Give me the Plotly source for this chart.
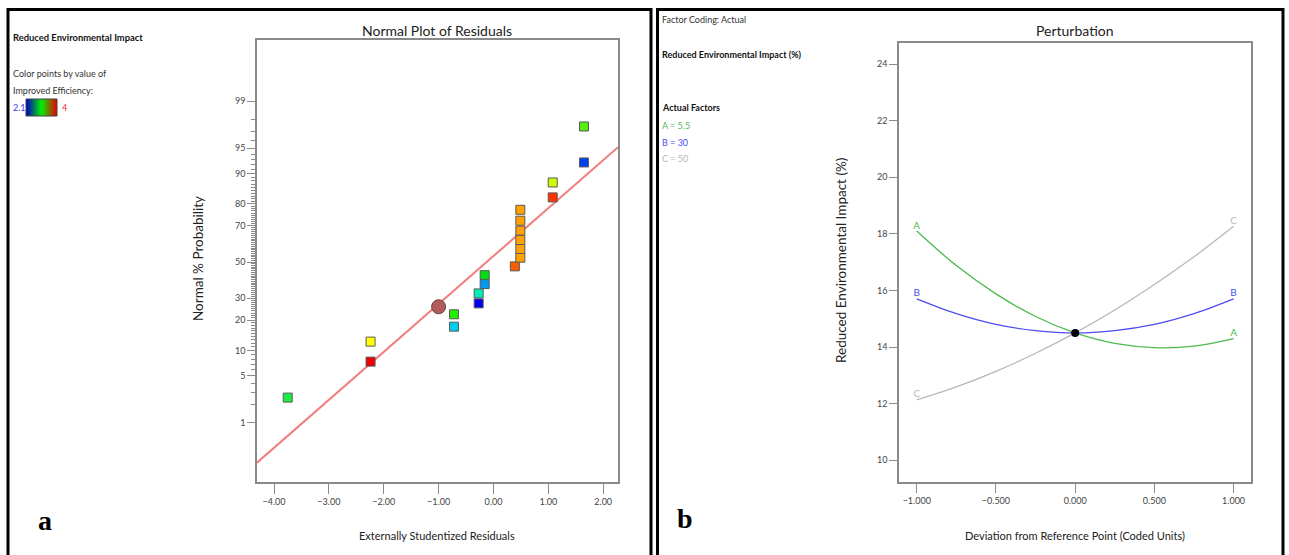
import plotly.graph_objects as go
import numpy as np
from statistics import NormalDist

W, H = 1289, 555
ND = NormalDist()

# ---------------- Data: Normal plot of residuals ----------------
residuals = [-3.75, -2.24, -2.24, -0.72, -0.72, -0.27, -0.27, -0.16, -0.16, 0.39,
             0.49, 0.49, 0.49, 0.49, 0.49, 0.49, 1.08, 1.08, 1.65, 1.65]
probabilities = [2.5, 7.5, 12.5, 17.5, 22.5, 27.5, 32.5, 37.5, 42.5, 47.5,
                 52.5, 57.5, 62.5, 67.5, 72.5, 77.5, 82.5, 87.5, 92.5, 97.5]
point_colors = ['#1eea46', '#ee0000', '#ffff00', '#00ccf0', '#22ee00', '#0000ee',
                '#00eebb', '#0099ee', '#00dd11', '#ff5a00',
                '#ffa200', '#ffa200', '#ffa200', '#ffa200', '#ffa200', '#ffa200',
                '#ff3300', '#ccff00', '#0040ee', '#55ee11']
highlight_residual = [-1.0]
highlight_prob = [25.9]
fit_mean = -0.125
fit_sd = 1.443
prob_tick_labels = [1, 5, 10, 20, 30, 50, 70, 80, 90, 95, 99]
resid_range = [-4.31, 2.27]
efficiency_range = [2.1, 4.0]

# ---------------- Data: Perturbation ----------------
deviation = [-1.0, -0.75, -0.5, -0.25, 0.0, 0.25, 0.5, 0.75, 1.0]
curve_A = [18.1, 16.88, 15.88, 15.08, 14.5, 14.13, 13.98, 14.03, 14.3]
curve_B = [15.7, 15.18, 14.8, 14.58, 14.5, 14.58, 14.8, 15.18, 15.7]
curve_C = [12.13, 12.59, 13.14, 13.78, 14.5, 15.31, 16.21, 17.19, 18.27]
ref_point = (0.0, 14.5)
factor_names = ['A', 'B', 'C']
factor_values = ['5.5', '30', '50']
factor_colors = ['#4cbb4c', '#4d4df0', '#b8b8b8']

FONT = 'Lato'
AX = '#8a8a8a'
TXT = '#333333'


def px(x):
    return x / W


def py(y):
    return 1 - y / H


def z(p):
    return ND.inv_cdf(p / 100.0)


fig = go.Figure()

# red fit line
lx = resid_range
lz = [(v - fit_mean) / fit_sd for v in lx]
fig.add_trace(go.Scatter(x=lx, y=lz, mode='lines', line=dict(color='#f47c7c', width=2),
                         xaxis='x', yaxis='y', hoverinfo='skip', showlegend=False))
# residual points
fig.add_trace(go.Scatter(x=residuals, y=[z(p) for p in probabilities], mode='markers',
                         marker=dict(symbol='square', size=9, color=point_colors,
                                     line=dict(color='#5a5a5a', width=1)),
                         xaxis='x', yaxis='y', showlegend=False))
fig.add_trace(go.Scatter(x=highlight_residual, y=[z(p) for p in highlight_prob], mode='markers',
                         marker=dict(symbol='circle', size=14, color='#b35c5c',
                                     line=dict(color='#6a4040', width=1)),
                         xaxis='x', yaxis='y', showlegend=False))

# colour legend bar
grad = np.linspace(efficiency_range[0], efficiency_range[1], 60)
fig.add_trace(go.Heatmap(z=[grad], x=grad, y=[0], xaxis='x3', yaxis='y3', showscale=False,
                         colorscale=[[0, '#0000c0'], [0.5, '#00ee00'], [1, '#ee0000']],
                         hoverinfo='skip'))

# perturbation curves
for name, ys, col in zip(factor_names, [curve_A, curve_B, curve_C], factor_colors):
    labels = [name] + [''] * (len(deviation) - 2) + [name]
    fig.add_trace(go.Scatter(x=deviation, y=ys, mode='lines+text', text=labels,
                             textposition='top center',
                             textfont=dict(family=FONT, size=10, color=col),
                             line=dict(color=col, width=1.3, shape='spline'),
                             xaxis='x2', yaxis='y2', showlegend=False))
fig.add_trace(go.Scatter(x=[ref_point[0]], y=[ref_point[1]], mode='markers',
                         marker=dict(color='black', size=8), xaxis='x2', yaxis='y2',
                         showlegend=False))

axis_common = dict(showline=True, mirror=True, linecolor=AX, linewidth=1.5,
                   ticks='outside', tickcolor=AX, tickwidth=1, showgrid=False,
                   zeroline=False, tickfont=dict(family=FONT, size=9, color='#444'))

minor_probs = [p for p in range(1, 100) if p not in prob_tick_labels]

fig.update_layout(
    width=W, height=H, margin=dict(l=0, r=0, t=0, b=0),
    paper_bgcolor='white', plot_bgcolor='white', showlegend=False,
    xaxis=dict(domain=[px(257), px(618)], anchor='y', range=resid_range,
               tickvals=[-4, -3, -2, -1, 0, 1, 2], tickformat='.2f', ticklen=10,
               **axis_common),
    yaxis=dict(domain=[py(482), py(40)], anchor='x', range=[-3.18, 3.21],
               tickvals=[z(p) for p in prob_tick_labels],
               ticktext=[str(p) for p in prob_tick_labels], ticklen=8,
               minor=dict(tickvals=[z(p) for p in minor_probs], ticklen=4,
                          tickcolor=AX, ticks='outside'),
               **axis_common),
    xaxis2=dict(domain=[px(899), px(1251)], anchor='y2', range=[-1.112, 1.11],
                tickvals=[-1, -0.5, 0, 0.5, 1], tickformat='.3f', ticklen=10,
                **axis_common),
    yaxis2=dict(domain=[py(481.7), py(42.7)], anchor='x2', range=[9.24, 24.76],
                tickvals=[10, 12, 14, 16, 18, 20, 22, 24], ticklen=8,
                **axis_common),
    xaxis3=dict(domain=[px(26), px(57)], anchor='y3', visible=False),
    yaxis3=dict(domain=[py(116), py(99)], anchor='x3', visible=False),
)

# colour bar outline
fig.add_shape(type='rect', xref='x3 domain', yref='y3 domain', x0=0, x1=1, y0=0, y1=1,
              line=dict(color='#444', width=1))

# outer frames
fig.add_shape(type='rect', xref='paper', yref='paper', x0=px(8), x1=px(651), y0=py(560), y1=py(9.5),
              line=dict(color='black', width=3))
fig.add_shape(type='rect', xref='paper', yref='paper', x0=px(657.5), x1=px(1283), y0=py(560), y1=py(9.5),
              line=dict(color='black', width=3))


def ann(text, x, y, size=9, color=TXT, xanchor='left', bold=False, family=FONT, angle=0):
    if bold:
        text = '<b>' + text + '</b>'
    fig.add_annotation(text=text, x=px(x), y=py(y), xref='paper', yref='paper',
                       xanchor=xanchor, yanchor='middle', showarrow=False, textangle=angle,
                       font=dict(family=family, size=size, color=color))


# titles / axis titles
ann('Normal Plot of Residuals', 437, 30, size=14, color='#222', xanchor='center')
ann('Externally Studentized Residuals', 437, 535, size=11, color='#222', xanchor='center')
ann('Normal % Probability', 198, 259, size=13.5, color='#222', xanchor='center', angle=-90)
ann('Perturbation', 1075, 30, size=14, color='#222', xanchor='center')
ann('Deviation from Reference Point (Coded Units)', 1075, 535, size=11, color='#222', xanchor='center')
ann('Reduced Environmental Impact (%)', 841, 261, size=13.5, color='#222', xanchor='center', angle=-90)

# left legend
ann('Reduced Environmental Impact', 11, 38, size=9.4, color='#111', bold=True)
ann('Color points by value of', 11, 73, size=9)
ann('Improved Efficiency:', 11, 90, size=9)
ann('2.1', 11, 107, size=9, color='#3b3bee')
ann('4', 60, 107, size=9, color='#ee3030')

# right legend
ann('Factor Coding: Actual', 660, 20, size=9)
ann('Reduced Environmental Impact (%)', 660, 55, size=9, color='#111', bold=True)
ann('Actual Factors', 660, 107, size=9, color='#111', bold=True)
for i, (n, v, c) in enumerate(zip(factor_names, factor_values, factor_colors)):
    ann(f'{n} = {v}', 660, 125 + 17 * i, size=9, color=c)

# panel letters
ann('a', 45, 520, size=28, color='black', xanchor='center', bold=True, family='Liberation Serif')
ann('b', 685, 518, size=28, color='black', xanchor='center', bold=True, family='Liberation Serif')

fig.write_html('out.html', config={'displayModeBar': False},
               post_script="document.body.style.margin='0';document.body.style.overflow='hidden';")
